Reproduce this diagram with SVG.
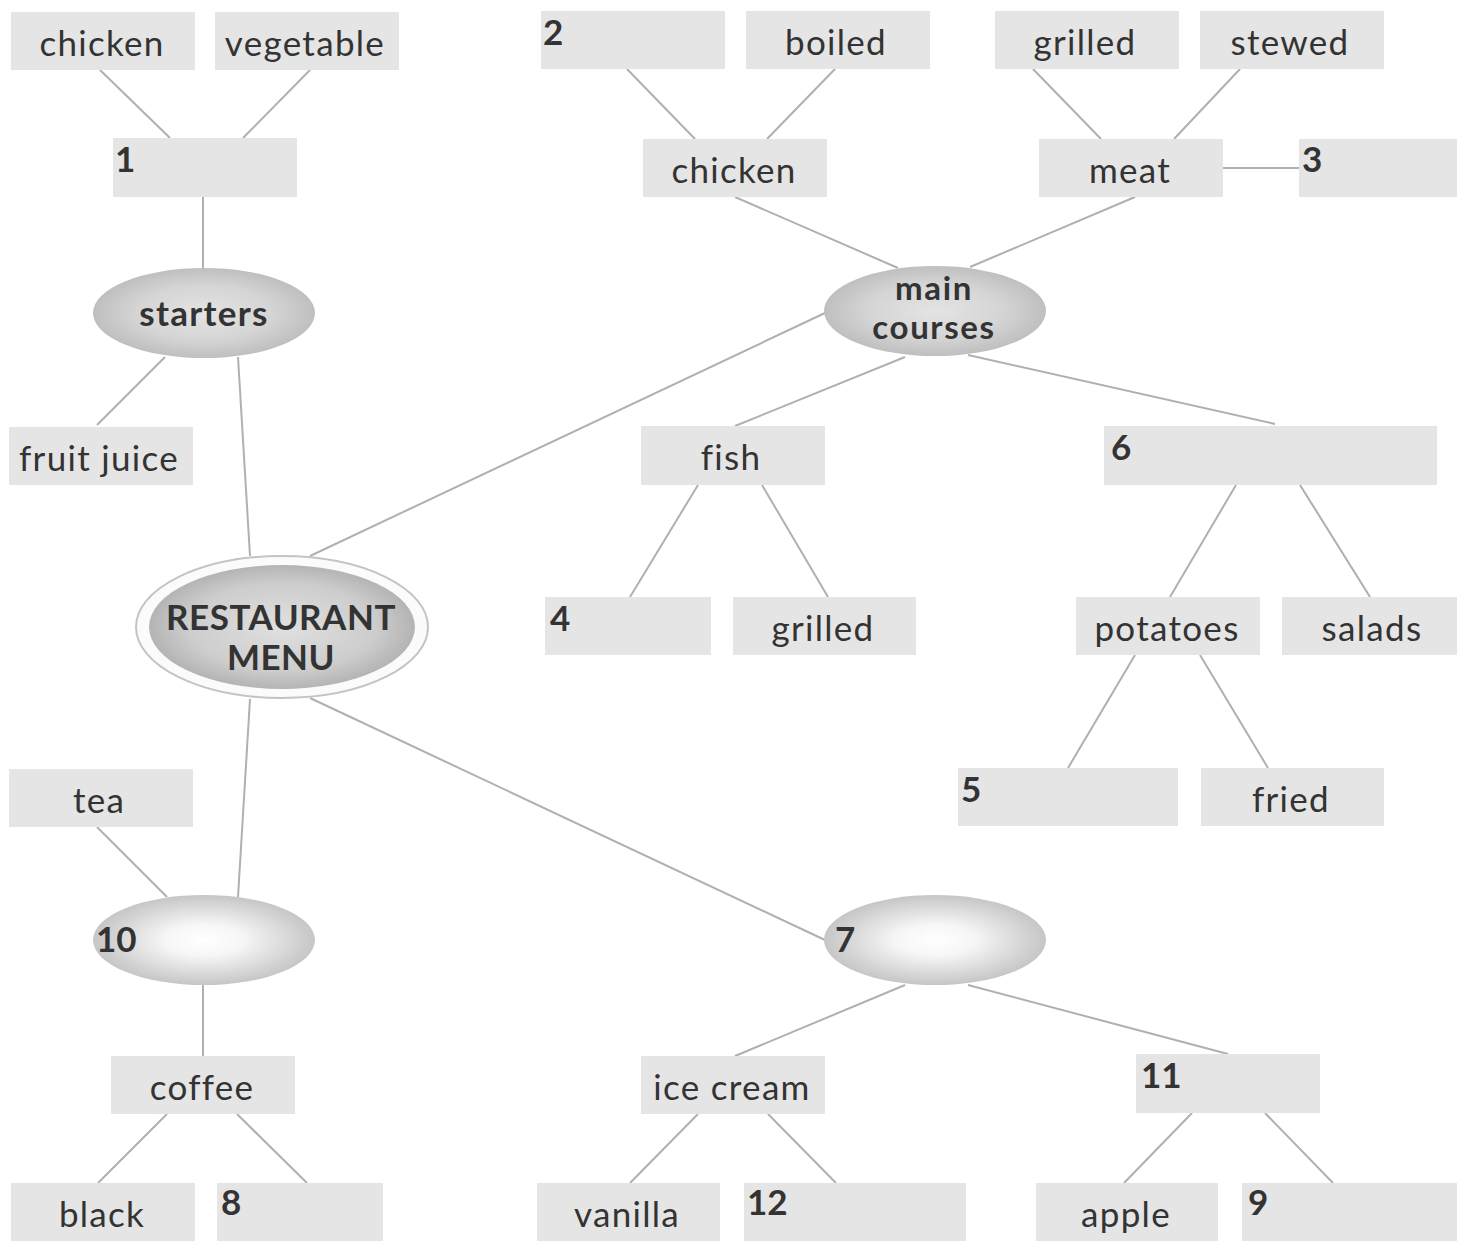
<svg xmlns="http://www.w3.org/2000/svg" width="1459" height="1241" viewBox="0 0 1459 1241">
<defs>
<radialGradient id="gCat" cx="50%" cy="50%" r="50%">
<stop offset="0" stop-color="#e4e4e4"/>
<stop offset="0.6" stop-color="#d5d5d5"/>
<stop offset="1" stop-color="#bfbfbf"/>
</radialGradient>
<radialGradient id="gBlank" cx="50%" cy="50%" r="50%">
<stop offset="0" stop-color="#ffffff"/>
<stop offset="0.35" stop-color="#f6f6f6"/>
<stop offset="1" stop-color="#c6c6c6"/>
</radialGradient>
<radialGradient id="gMain" cx="50%" cy="50%" r="50%">
<stop offset="0" stop-color="#e0e0e0"/>
<stop offset="0.7" stop-color="#cdcdcd"/>
<stop offset="1" stop-color="#b4b4b4"/>
</radialGradient>
<style>
.box{fill:#e5e5e5}
.t{font-family:Lato,"Open Sans","Liberation Sans",sans-serif;font-size:35px;fill:#333;letter-spacing:1.3px}
.c{text-anchor:middle}
.n{font-weight:bold;fill:#333;letter-spacing:0}
.b{font-weight:bold;text-anchor:middle;fill:#333}
.s{font-size:33px;letter-spacing:1.6px}
#connectors line{stroke:#b0b0b0;stroke-width:2}
</style>
</defs>
<rect width="1459" height="1241" fill="#ffffff"/>
<g id="connectors">
<line x1="100" y1="70" x2="170" y2="138"/>
<line x1="310" y1="70" x2="243" y2="138"/>
<line x1="203" y1="197" x2="203" y2="268"/>
<line x1="165" y1="357" x2="97" y2="425"/>
<line x1="238" y1="357" x2="250" y2="556"/>
<line x1="310" y1="556" x2="825" y2="313"/>
<line x1="627" y1="69" x2="695" y2="139"/>
<line x1="835" y1="69" x2="767" y2="139"/>
<line x1="1033" y1="69" x2="1101" y2="139"/>
<line x1="1240" y1="69" x2="1174" y2="139"/>
<line x1="1223" y1="168" x2="1299" y2="168"/>
<line x1="735" y1="197" x2="898" y2="268"/>
<line x1="1135" y1="197" x2="970" y2="267"/>
<line x1="905" y1="357" x2="735" y2="426"/>
<line x1="968" y1="355" x2="1275" y2="424"/>
<line x1="698" y1="485" x2="630" y2="597"/>
<line x1="762" y1="485" x2="828" y2="597"/>
<line x1="1236" y1="485" x2="1170" y2="597"/>
<line x1="1300" y1="485" x2="1370" y2="597"/>
<line x1="1135" y1="655" x2="1068" y2="768"/>
<line x1="1200" y1="655" x2="1268" y2="768"/>
<line x1="250" y1="699" x2="238" y2="897"/>
<line x1="310" y1="698" x2="825" y2="940"/>
<line x1="97" y1="827" x2="167" y2="897"/>
<line x1="203" y1="985" x2="203" y2="1056"/>
<line x1="167" y1="1114" x2="98" y2="1183"/>
<line x1="237" y1="1114" x2="307" y2="1183"/>
<line x1="905" y1="985" x2="735" y2="1056"/>
<line x1="968" y1="985" x2="1228" y2="1054"/>
<line x1="698" y1="1114" x2="630" y2="1183"/>
<line x1="768" y1="1114" x2="836" y2="1183"/>
<line x1="1192" y1="1113" x2="1124" y2="1183"/>
<line x1="1265" y1="1113" x2="1333" y2="1183"/>
</g>

<g id="n-chicken1"><rect class="box" x="11" y="12" width="184" height="58"/><text class="t c" x="102" y="56">chicken</text></g>
<g id="n-vegetable"><rect class="box" x="215" y="12" width="184" height="58"/><text class="t c" x="305" y="56">vegetable</text></g>
<g id="n-1"><rect class="box" x="113" y="138" width="184" height="59"/><text class="t n" x="115" y="172">1</text></g>
<g id="n-starters"><ellipse cx="204" cy="313" rx="111" ry="45" fill="url(#gCat)"/><text class="t b" x="204" y="326">starters</text></g>
<g id="n-fruitjuice"><rect class="box" x="9" y="427" width="184" height="58"/><text class="t c" x="99" y="471">fruit juice</text></g>

<g id="n-2"><rect class="box" x="541" y="11" width="184" height="58"/><text class="t n" x="543" y="45">2</text></g>
<g id="n-boiled"><rect class="box" x="746" y="11" width="184" height="58"/><text class="t c" x="836" y="55">boiled</text></g>
<g id="n-grilled1"><rect class="box" x="995" y="11" width="184" height="58"/><text class="t c" x="1085" y="55">grilled</text></g>
<g id="n-stewed"><rect class="box" x="1200" y="11" width="184" height="58"/><text class="t c" x="1290" y="55">stewed</text></g>
<g id="n-chicken2"><rect class="box" x="643" y="139" width="184" height="58"/><text class="t c" x="734" y="183">chicken</text></g>
<g id="n-meat"><rect class="box" x="1039" y="139" width="184" height="58"/><text class="t c" x="1130" y="183">meat</text></g>
<g id="n-3"><rect class="box" x="1299" y="139" width="158" height="58"/><text class="t n" x="1302" y="172">3</text></g>
<g id="n-main"><ellipse cx="935" cy="311" rx="111" ry="45" fill="url(#gCat)"/><text class="t b s" x="934" y="300">main</text><text class="t b s" x="934" y="339">courses</text></g>

<g id="n-fish"><rect class="box" x="641" y="426" width="184" height="59"/><text class="t c" x="731" y="470">fish</text></g>
<g id="n-6"><rect class="box" x="1104" y="426" width="333" height="59"/><text class="t n" x="1111" y="460">6</text></g>
<g id="n-4"><rect class="box" x="545" y="597" width="166" height="58"/><text class="t n" x="550" y="631">4</text></g>
<g id="n-grilled2"><rect class="box" x="733" y="597" width="183" height="58"/><text class="t c" x="823" y="641">grilled</text></g>
<g id="n-potatoes"><rect class="box" x="1076" y="597" width="184" height="58"/><text class="t c" x="1167" y="641">potatoes</text></g>
<g id="n-salads"><rect class="box" x="1282" y="597" width="175" height="58"/><text class="t c" x="1372" y="641">salads</text></g>
<g id="n-5"><rect class="box" x="958" y="768" width="220" height="58"/><text class="t n" x="961" y="802">5</text></g>
<g id="n-fried"><rect class="box" x="1201" y="768" width="183" height="58"/><text class="t c" x="1291" y="812">fried</text></g>

<g id="n-restaurant"><ellipse cx="282" cy="627" rx="146" ry="71" fill="#fbfbfb" stroke="#c4c4c4" stroke-width="2"/><ellipse cx="282" cy="627" rx="133" ry="62" fill="url(#gMain)"/><text class="t b" x="281" y="630" style="letter-spacing:0.5px">RESTAURANT</text><text class="t b" x="281" y="670" style="letter-spacing:0.5px">MENU</text></g>

<g id="n-tea"><rect class="box" x="9" y="769" width="184" height="58"/><text class="t c" x="99" y="813">tea</text></g>
<g id="n-10"><ellipse cx="204" cy="940" rx="111" ry="45" fill="url(#gBlank)"/><text class="t n" x="96" y="952">10</text></g>
<g id="n-coffee"><rect class="box" x="111" y="1056" width="184" height="58"/><text class="t c" x="202" y="1100">coffee</text></g>
<g id="n-black"><rect class="box" x="11" y="1183" width="184" height="58"/><text class="t c" x="102" y="1227">black</text></g>
<g id="n-8"><rect class="box" x="217" y="1183" width="166" height="58"/><text class="t n" x="221" y="1215">8</text></g>

<g id="n-7"><ellipse cx="935" cy="940" rx="111" ry="45" fill="url(#gBlank)"/><text class="t n" x="835" y="952">7</text></g>
<g id="n-icecream"><rect class="box" x="641" y="1056" width="184" height="58"/><text class="t c" x="732" y="1100">ice cream</text></g>
<g id="n-11"><rect class="box" x="1136" y="1054" width="184" height="59"/><text class="t n" x="1141" y="1088">11</text></g>
<g id="n-vanilla"><rect class="box" x="537" y="1183" width="183" height="58"/><text class="t c" x="627" y="1227">vanilla</text></g>
<g id="n-12"><rect class="box" x="744" y="1183" width="222" height="58"/><text class="t n" x="747" y="1215">12</text></g>
<g id="n-apple"><rect class="box" x="1036" y="1183" width="182" height="58"/><text class="t c" x="1126" y="1227">apple</text></g>
<g id="n-9"><rect class="box" x="1242" y="1183" width="215" height="58"/><text class="t n" x="1248" y="1215">9</text></g>
</svg>
